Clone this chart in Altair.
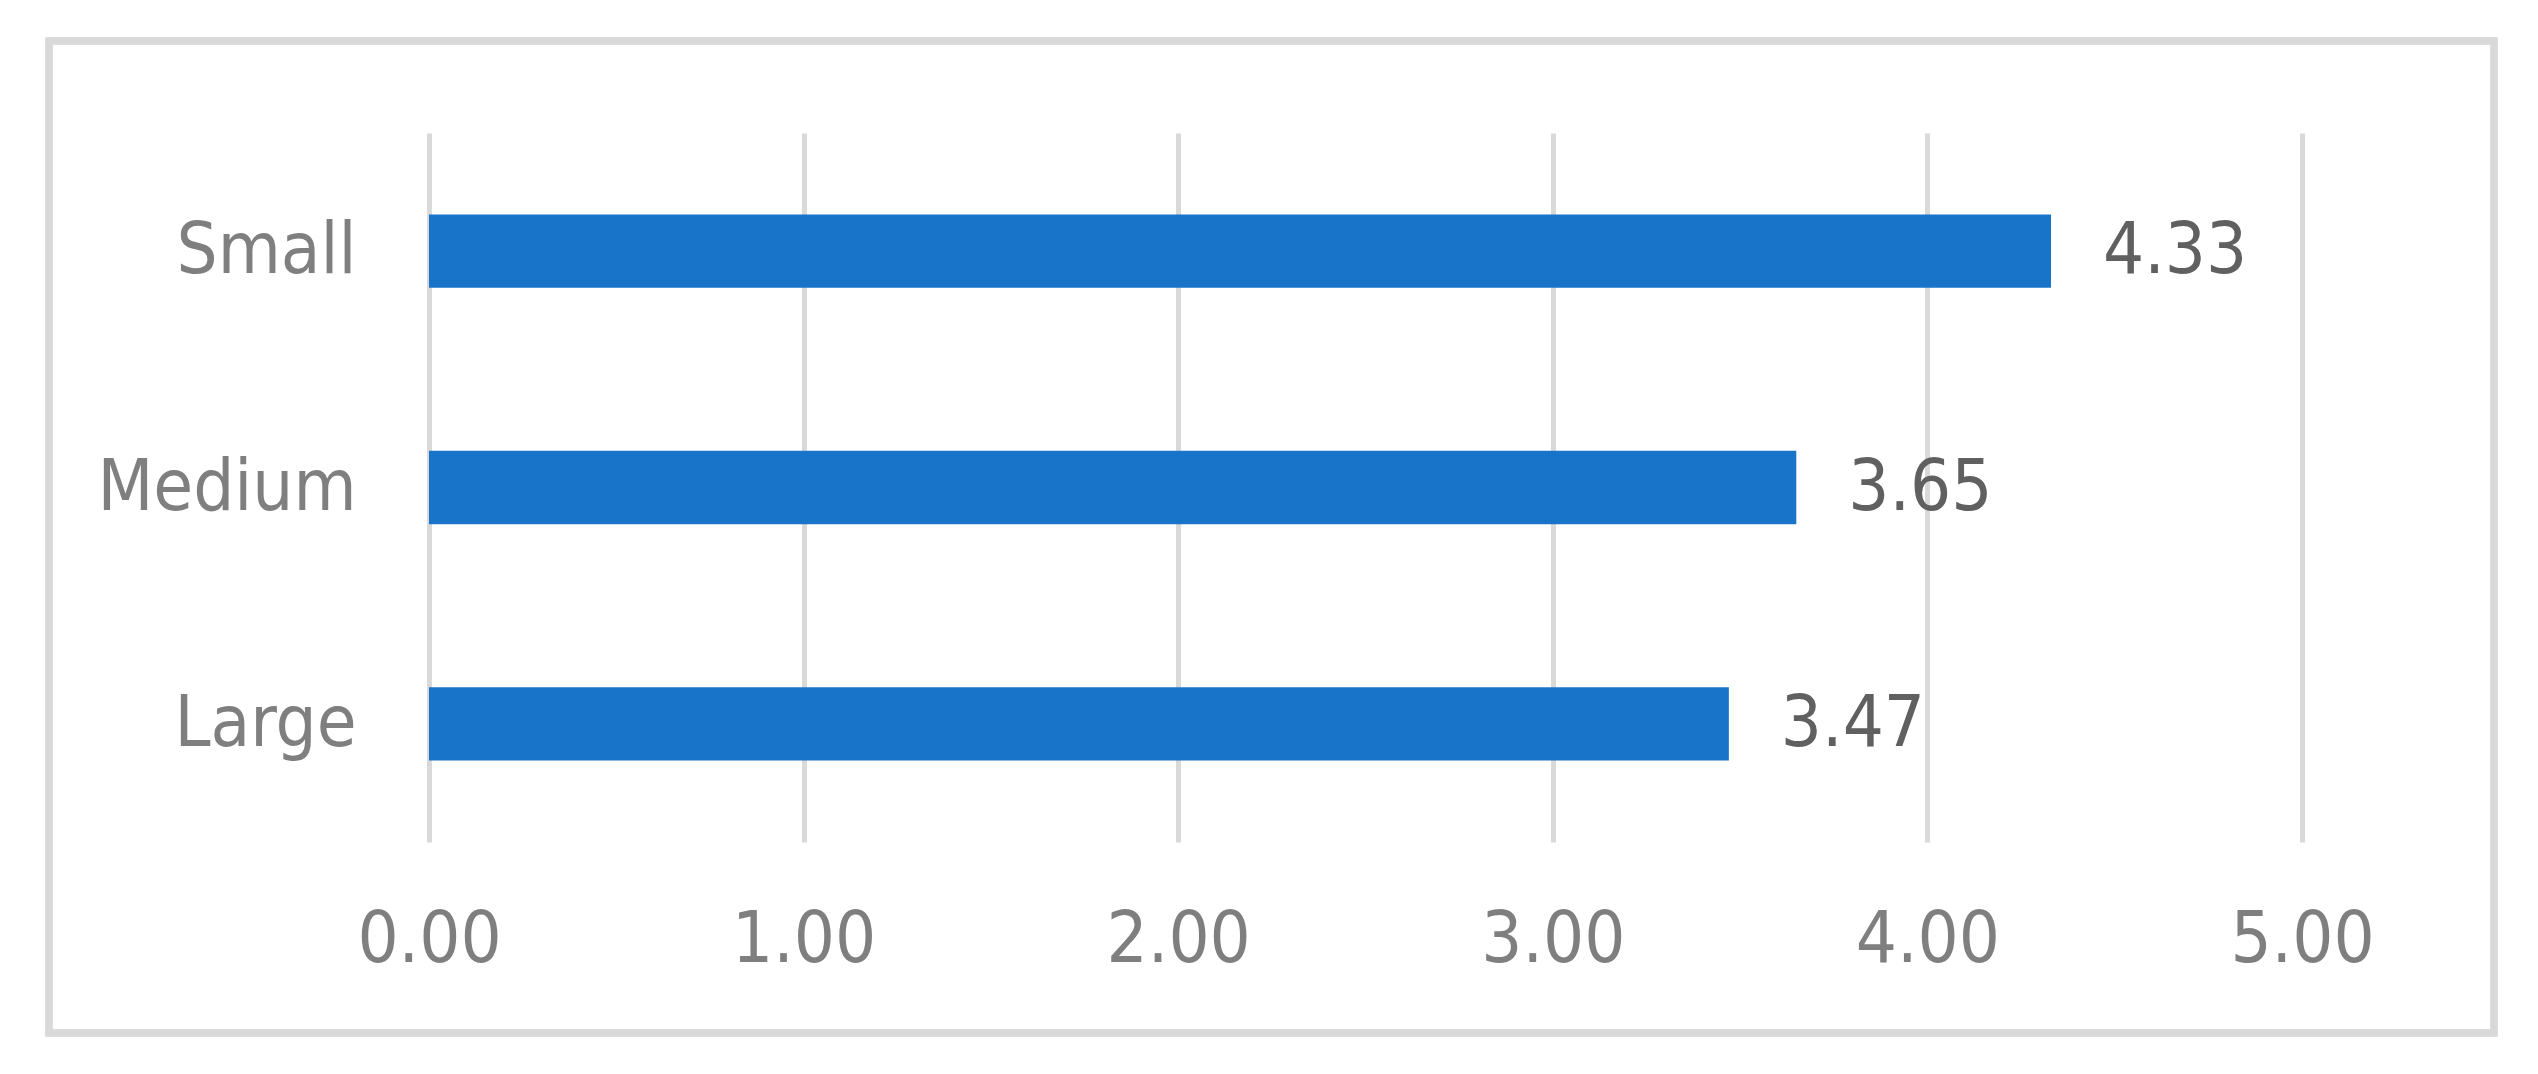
import altair as alt
import pandas as pd

categories = ["Small", "Medium", "Large"]
values = [4.33, 3.65, 3.47]
tick_values = [0, 1, 2, 3, 4, 5]

df = pd.DataFrame({"size": categories, "value": values})

FONT = "Liberation Sans Narrow, DejaVu Sans Condensed, Lato, sans-serif"
W, H = 1873, 709

base = alt.Chart(df)

border = base.mark_rect(
    fill="transparent", stroke="#d9d9d9", strokeWidth=7, clip=False
).encode(
    x=alt.value(-380), x2=alt.value(W + 192),
    y=alt.value(-92), y2=alt.value(H + 191),
)

bars = base.mark_bar(color="#1874C8").encode(
    y=alt.Y("size:N", sort=categories,
            scale=alt.Scale(paddingInner=0.69, paddingOuter=0.345),
            axis=alt.Axis(title=None, ticks=False, domain=False,
                          labelFont=FONT, labelFontSize=72, labelLimit=0,
                          labelColor="#7f7f7f", labelPadding=73)),
    x=alt.X("value:Q", scale=alt.Scale(domain=[0, 5], nice=False),
            axis=alt.Axis(title=None, values=tick_values, format=".2f",
                          ticks=False, domain=False, grid=True,
                          gridColor="#d9d9d9", gridWidth=5,
                          labelFlush=False, labelOverlap=False,
                          labelFont=FONT, labelFontSize=72,
                          labelColor="#7f7f7f", labelPadding=62)),
)

labels = base.mark_text(
    align="left", baseline="middle", dx=52, font=FONT, fontSize=72,
    color="#606060"
).encode(
    y=alt.Y("size:N", sort=categories),
    x=alt.X("value:Q"),
    text=alt.Text("value:Q", format=".2f"),
)

chart = alt.layer(border, bars, labels).properties(
    width=W, height=H,
    autosize=alt.AutoSizeParams(type="none"),
    padding={"left": 421, "top": 125, "right": 228, "bottom": 200},
).configure_view(stroke=None)

chart.save("out.html", embed_options={"renderer": "svg", "actions": False})
